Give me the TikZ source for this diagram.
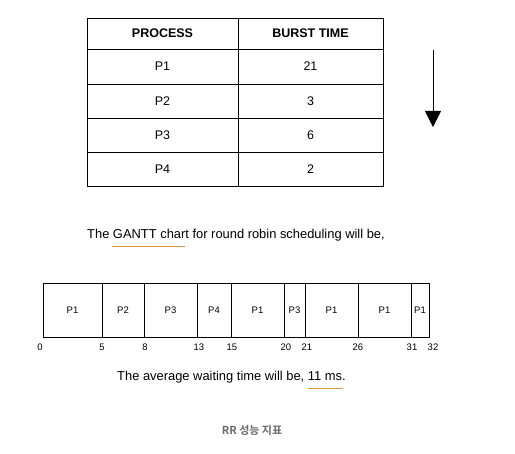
\documentclass[tikz,border=0pt]{standalone}
\usepackage{fontspec}
\setmainfont{Liberation Sans}
\newfontfamily\krfont[BoldFont={Noto Sans CJK KR Bold}]{Noto Sans CJK KR}
\usetikzlibrary{arrows.meta}
\definecolor{uline}{RGB}{214,148,62}
\definecolor{capgray}{RGB}{105,105,105}
\tikzset{
  cell/.style={draw, line width=0.8pt, inner sep=0pt, outer sep=0pt, font=\fontsize{12.5}{14}\selectfont},
  head/.style={cell, font=\fontsize{12.5}{14}\selectfont\bfseries},
  slot/.style={draw, line width=0.8pt, inner sep=0pt, outer sep=0pt, minimum height=54, anchor=west, font=\fontsize{9.5}{11}\selectfont},
  tick/.style={inner sep=0pt, font=\fontsize{9.5}{11}\selectfont},
  txt/.style={inner sep=0pt, anchor=west, font=\fontsize{12.9}{15}\selectfont},
}
\begin{document}
\begin{tikzpicture}[x=1pt, y=-1pt]
\useasboundingbox (0,0) rectangle (515,454);

% table of burst times
\node[head, minimum width=151, minimum height=31] (hproc) at (162.5,33.5) {PROCESS};
\node[head, minimum width=145, minimum height=31] (hburst) at (310.5,33.5) {BURST TIME};
\node[cell, minimum width=151, minimum height=35] (proc1) at (162.5,66.5) {P1};
\node[cell, minimum width=145, minimum height=35] (burst1) at (310.5,66.5) {21};
\node[cell, minimum width=151, minimum height=34] (proc2) at (162.5,101) {P2};
\node[cell, minimum width=145, minimum height=34] (burst2) at (310.5,101) {3};
\node[cell, minimum width=151, minimum height=34] (proc3) at (162.5,135) {P3};
\node[cell, minimum width=145, minimum height=34] (burst3) at (310.5,135) {6};
\node[cell, minimum width=151, minimum height=34] (proc4) at (162.5,169) {P4};
\node[cell, minimum width=145, minimum height=34] (burst4) at (310.5,169) {2};

% down arrow
\coordinate (atop) at (433,50);
\coordinate (abot) at (433,127);
\draw[line width=0.8pt, -{Triangle[width=16pt, length=16pt]}] (atop) -- (abot);

\node[txt] (gtext) at (87,235) {The GANTT chart for round robin scheduling will be,};
\draw[uline, line width=1pt] (112,247) -- (185,247);

% gantt chart
\node[slot, minimum width=59] (g1) at (43,310) {P1};
\node[slot, minimum width=42] (g2) at (g1.east) {P2};
\node[slot, minimum width=53] (g3) at (g2.east) {P3};
\node[slot, minimum width=34] (g4) at (g3.east) {P4};
\node[slot, minimum width=53] (g5) at (g4.east) {P1};
\node[slot, minimum width=21] (g6) at (g5.east) {P3};
\node[slot, minimum width=53] (g7) at (g6.east) {P1};
\node[slot, minimum width=53] (g8) at (g7.east) {P1};
\node[slot, minimum width=18] (g9) at (g8.east) {P1};

\node[tick] (t0) at (40,347) {0};
\node[tick] (t5) at (102,347) {5};
\node[tick] (t8) at (145,347) {8};
\node[tick] (t13) at (199,347) {13};
\node[tick] (t15) at (232,347) {15};
\node[tick] (t20) at (286,347) {20};
\node[tick] (t21) at (307,347) {21};
\node[tick] (t26) at (358,347) {26};
\node[tick] (t31) at (412,347) {31};
\node[tick] (t32) at (433,347) {32};

\node[txt] (wtext) at (117,377) {The average waiting time will be, 11 ms.};
\draw[uline, line width=1pt] (308,389) -- (343,389);

\node[inner sep=0pt, text=capgray, font=\krfont\fontsize{11}{13}\selectfont\bfseries] (cap) at (252,430) {RR 성능 지표};
\end{tikzpicture}
\end{document}
